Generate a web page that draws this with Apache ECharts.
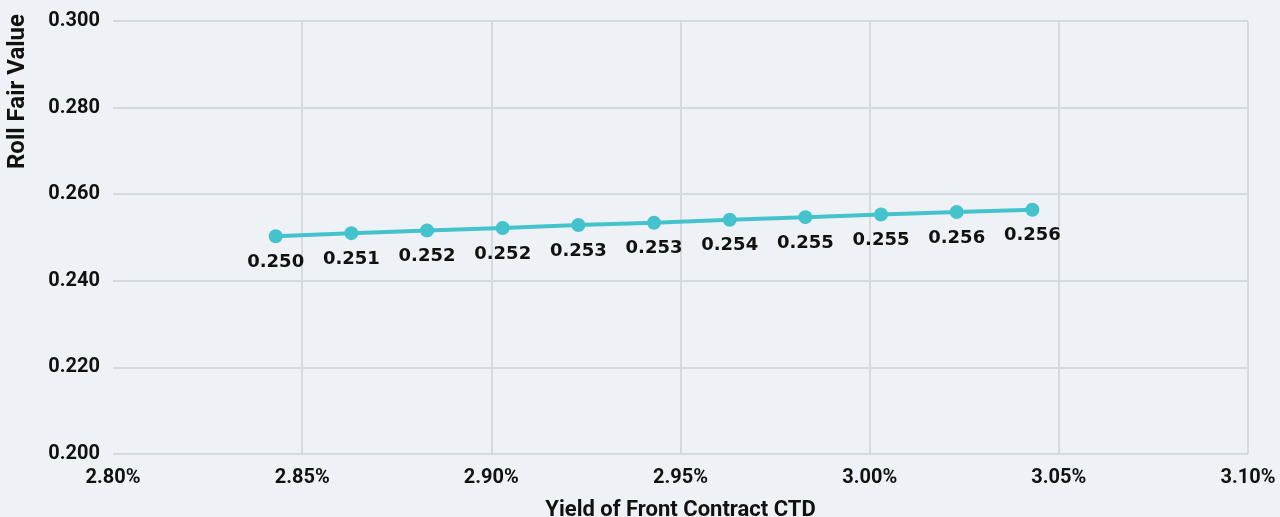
<!DOCTYPE html>
<html>
<head>
<meta charset="utf-8">
<script src="https://cdn.jsdelivr.net/npm/echarts@6/dist/echarts.min.js"></script>
<style>
    html, body { margin: 0; padding: 0; background: #eef2f6; }
    #chart { width: 1280px; height: 517px; }
</style>
</head>
<body>
<div id="chart"></div>
<script>
    // yield of front contract CTD (%)
    const yields = [2.843, 2.863, 2.883, 2.903, 2.923, 2.943, 2.963, 2.983, 3.003, 3.023, 3.043]
    // roll fair value
    const rollValues = [0.2503, 0.2510, 0.2516, 0.2522, 0.2529, 0.2534, 0.2541, 0.2547, 0.2553, 0.2559, 0.2564]

    const axisFont = 'Roboto, sans-serif'
    const lineColor = '#45c3cc'
    const gridColor = '#d3dbe1'

    let chart = echarts.init(document.getElementById('chart'))
    chart.setOption({
        backgroundColor: '#eef2f6',
        grid: {
            left: 113,
            right: 32,
            top: 21,
            bottom: 63,
            outerBoundsMode: 'none'
        },
        xAxis: {
            type: 'value',
            min: 2.80,
            max: 3.10,
            interval: 0.05,
            name: 'Yield of Front Contract CTD',
            nameLocation: 'middle',
            nameGap: 45,
            nameTextStyle: { fontFamily: axisFont, fontWeight: 'bold', fontSize: 22, color: '#111' },
            axisLine: { show: false },
            axisTick: { show: false },
            axisLabel: {
                margin: 14,
                fontFamily: axisFont,
                fontWeight: 'bold',
                fontSize: 20,
                color: '#111',
                formatter: v => v.toFixed(2) + '%'
            },
            // no line at the first tick
            splitLine: {
                lineStyle: {
                    color: ['rgba(0,0,0,0)', gridColor, gridColor, gridColor, gridColor, gridColor, gridColor],
                    width: 2
                }
            }
        },
        yAxis: {
            type: 'value',
            min: 0.2,
            max: 0.3,
            interval: 0.02,
            name: 'Roll Fair Value',
            nameLocation: 'middle',
            nameRotate: 90,
            nameGap: 83,
            nameTextStyle: {
                fontFamily: axisFont, fontWeight: 'bold', fontSize: 24, color: '#111',
                padding: [0, 0, 0, 292]
            },
            axisLine: { show: false },
            axisTick: { show: false },
            axisLabel: {
                margin: 13,
                fontFamily: axisFont,
                fontWeight: 'bold',
                fontSize: 20,
                color: '#111',
                formatter: v => v.toFixed(3)
            },
            splitLine: { lineStyle: { color: gridColor, width: 2 } }
        },
        series: [{
            type: 'line',
            data: yields.map((x, i) => [x, rollValues[i]]),
            symbol: 'circle',
            symbolSize: 14,
            lineStyle: { color: lineColor, width: 4 },
            itemStyle: { color: lineColor },
            label: {
                show: true,
                position: 'bottom',
                distance: 10,
                fontFamily: '"DejaVu Sans", sans-serif',
                fontWeight: 'bold',
                fontSize: 18,
                color: '#111',
                formatter: p => p.value[1].toFixed(3)
            }
        }]
    })
</script>
</body>
</html>
